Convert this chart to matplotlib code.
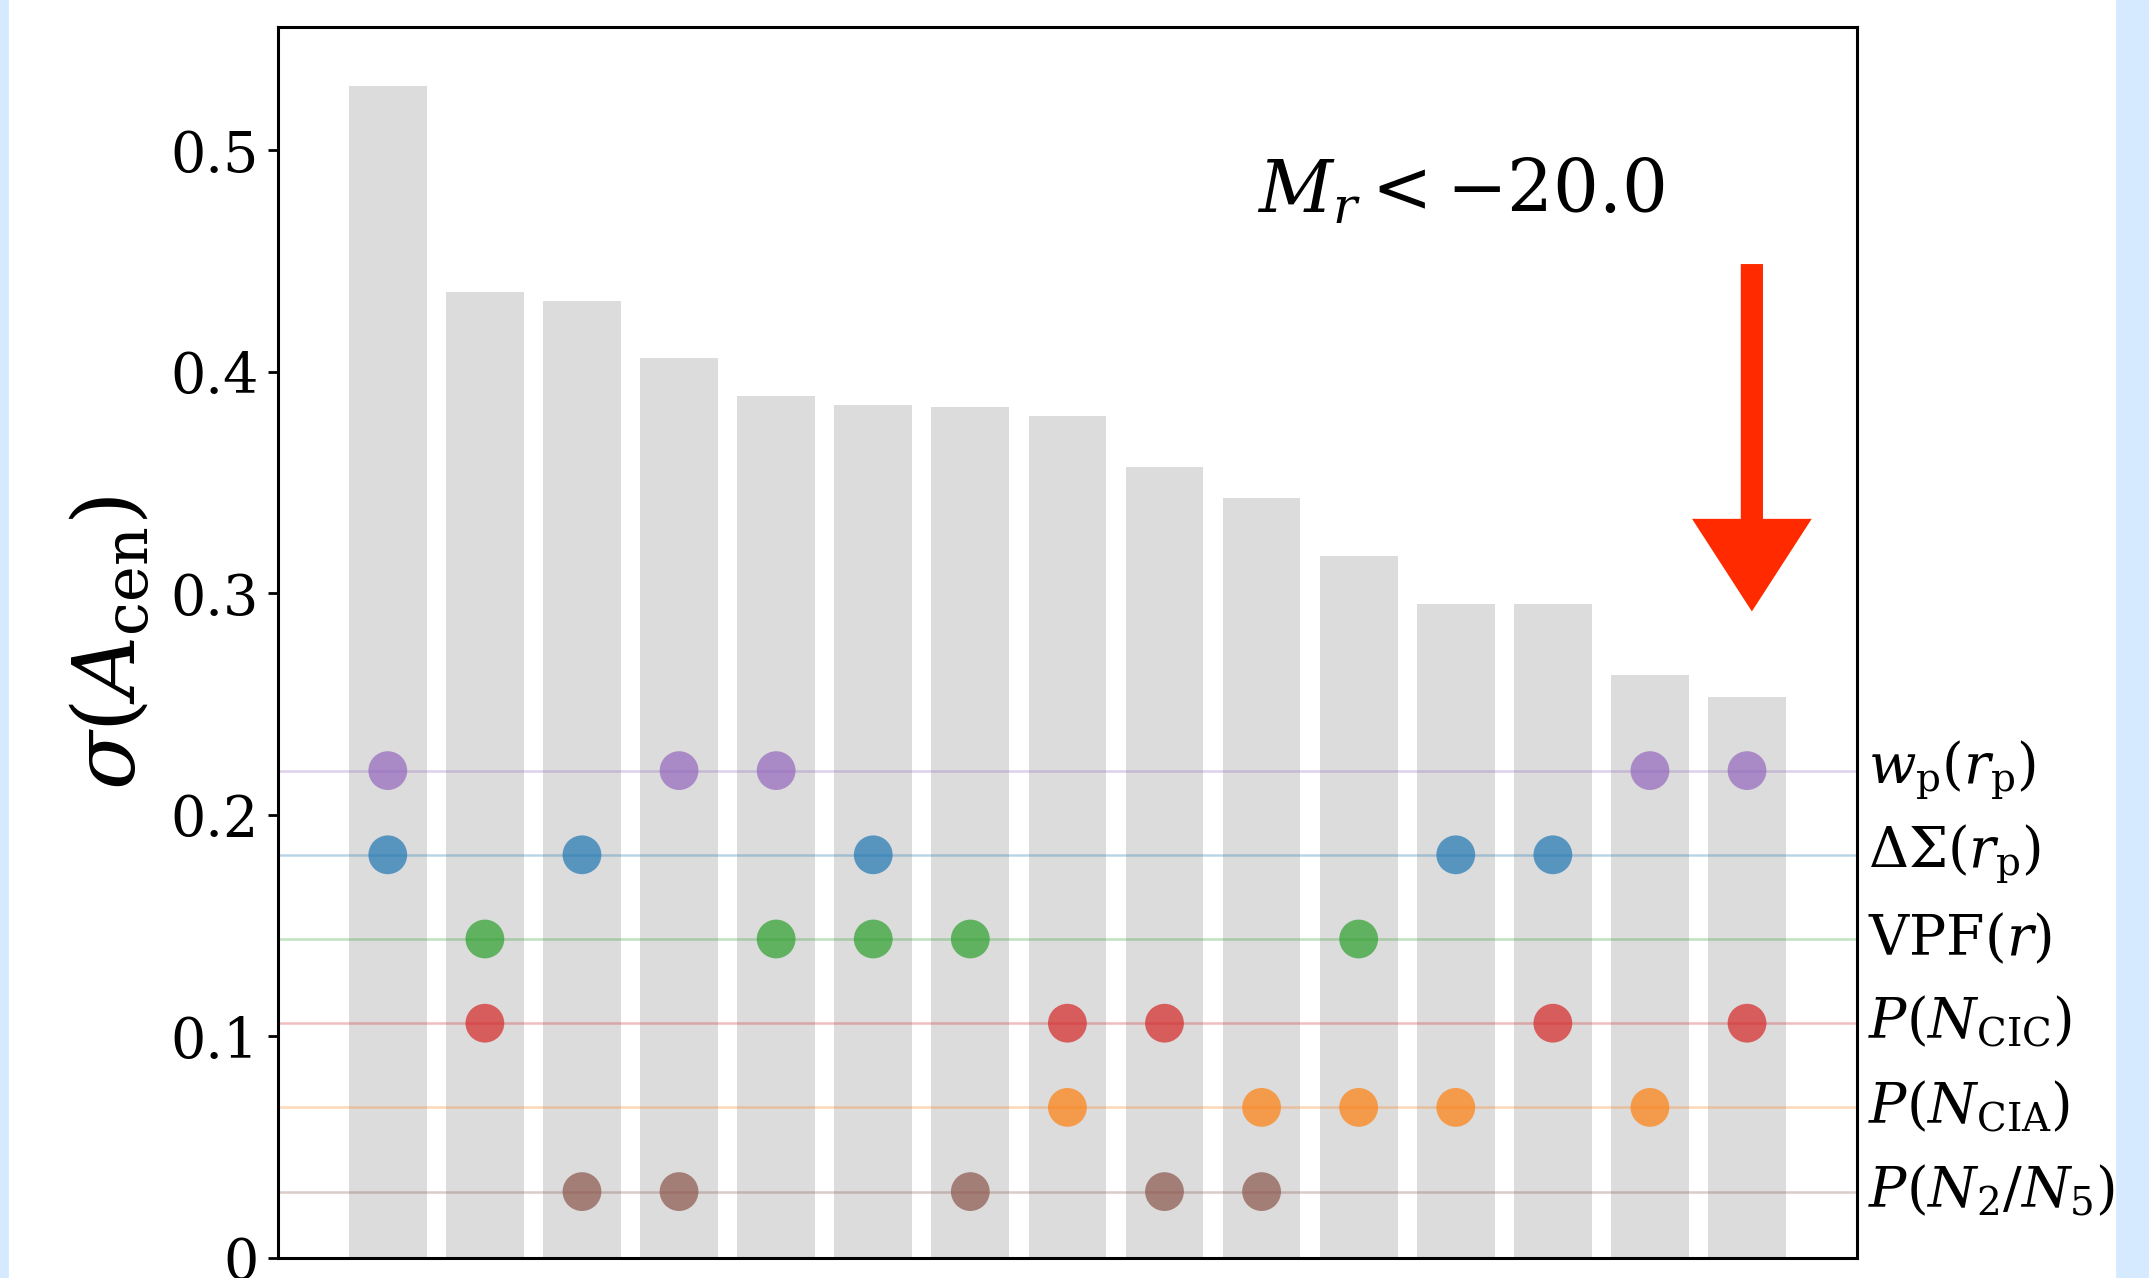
import numpy as np
import matplotlib
matplotlib.use("Agg")
import matplotlib.pyplot as plt
import matplotlib.patches as mpatches
import matplotlib.transforms as mtransforms

plt.rcParams["font.family"] = ["DejaVu Serif"]
plt.rcParams["mathtext.fontset"] = "dejavuserif"

# Scatter in the central-galaxy assembly bias for each pair of statistics
sigma_values = [0.529, 0.436, 0.432, 0.406, 0.389, 0.385, 0.384, 0.380,
                0.357, 0.343, 0.317, 0.295, 0.295, 0.263, 0.253]

stat_labels = [r"$P(N_2/N_5)$", r"$P(N_{\rm CIA})$", r"$P(N_{\rm CIC})$",
               r"${\rm VPF}(r)$", r"$\Delta\Sigma(r_{\rm p})$", r"$w_{\rm p}(r_{\rm p})$"]
stat_colors = ["tab:brown", "tab:orange", "tab:red", "tab:green", "tab:blue", "tab:purple"]
stat_rows = [0.030, 0.068, 0.106, 0.144, 0.182, 0.220]

# Which pair of statistics (indices into stat_labels) each bar uses
pairs = [(5, 4), (3, 2), (4, 0), (5, 0), (5, 3), (4, 3), (3, 0), (2, 1),
         (2, 0), (1, 0), (3, 1), (4, 1), (4, 2), (5, 1), (5, 2)]

fig = plt.figure(figsize=(10.745, 6.39), dpi=200)
ax = fig.add_axes([0.1294, 0.0156, 0.7346, 0.963])

x = np.arange(len(sigma_values))
ax.bar(x, sigma_values, width=0.8, color="#dcdcdc", zorder=1)

for k, (row, col) in enumerate(zip(stat_rows, stat_colors)):
    ax.axhline(row, color=col, lw=0.9, alpha=0.3, zorder=2)
    xs = [i for i, p in enumerate(pairs) if k in p]
    ax.scatter(xs, [row] * len(xs), s=195, color=col, alpha=0.7,
               edgecolors="none", zorder=3)

trans = mtransforms.blended_transform_factory(ax.transAxes, ax.transData)
for row, lab in zip(stat_rows, stat_labels):
    ax.text(1.007, row, lab, transform=trans, va="center", ha="left", fontsize=20)

ax.set_xlim(-1.13, 15.13)
ax.set_ylim(0, 1.05 * max(sigma_values))
ax.set_xticks([])
ax.set_yticks([0, 0.1, 0.2, 0.3, 0.4, 0.5])
ax.set_yticklabels(["0", "0.1", "0.2", "0.3", "0.4", "0.5"])
ax.tick_params(axis="y", labelsize=20, length=3.5, width=1.0)
for sp in ax.spines.values():
    sp.set_linewidth(1.1)

ax.set_ylabel(r"$\sigma(A_{\rm cen})$", fontsize=31)
ax.yaxis.set_label_coords(-0.079, 0.5)

ax.text(0.749, 0.866, r"$M_r < -20.0$", transform=ax.transAxes,
        ha="center", va="center", fontsize=26)

# Red marker arrow pointing at the last bar
arrow = mpatches.FancyArrow(14.05, 0.448, 0, -0.155, width=0.2,
                            head_width=1.18, head_length=0.04,
                            length_includes_head=True, color="#ff2a00",
                            zorder=5)
ax.add_patch(arrow)

# Pale side bands of the page
fig.patches.append(mpatches.Rectangle((0, 0), 0.0033, 1, transform=fig.transFigure,
                                      color="#d6eaff", zorder=0))
fig.patches.append(mpatches.Rectangle((0.985, 0), 0.015, 1, transform=fig.transFigure,
                                      color="#d6eaff", zorder=0))

fig.savefig("out.png", dpi=200)
